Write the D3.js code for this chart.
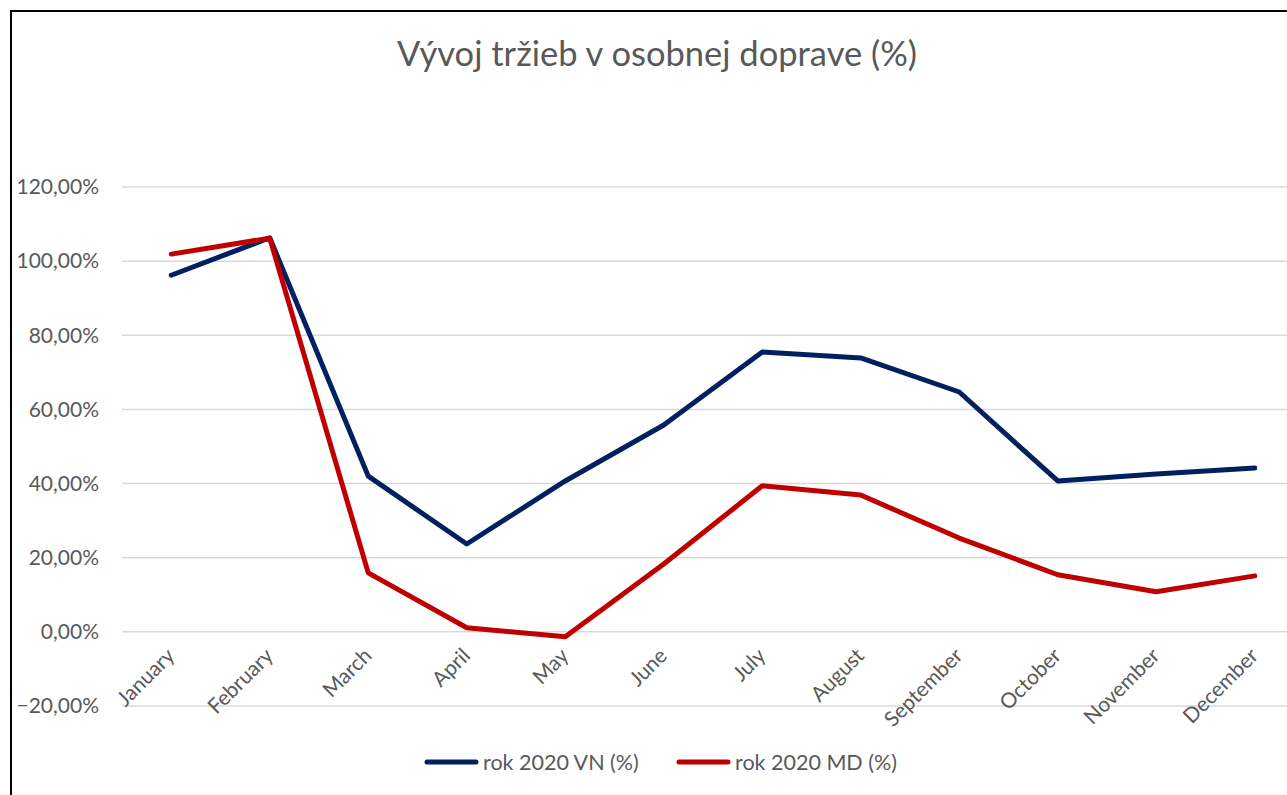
<!DOCTYPE html>
<html>
<head>
<meta charset="utf-8">
<script src="https://cdn.jsdelivr.net/npm/d3@7"></script>
<style>
  body { margin: 0; background: #fff; }
  text { font-family: Lato, "Open Sans", sans-serif; fill: #595959; }
</style>
</head>
<body>
<div id="chart"></div>
<script>
// data
const months = ["January", "February", "March", "April", "May", "June",
  "July", "August", "September", "October", "November", "December"];
const vn = [96.2, 106.3, 42.0, 23.7, 40.7, 55.8, 75.5, 73.9, 64.7, 40.7, 42.6, 44.2];
const md = [101.9, 106.2, 15.9, 1.1, -1.3, 18.3, 39.4, 36.9, 25.3, 15.4, 10.8, 15.1];
const yTicks = [-20, 0, 20, 40, 60, 80, 100, 120];
const seriesNames = ["rok 2020 VN (%)", "rok 2020 MD (%)"];
const colors = ["#002060", "#C00000"];

const W = 1287, H = 795;
const svg = d3.select("#chart").append("svg")
    .attr("width", W)
    .attr("height", H);

// chart frame (only top and left edges visible)
svg.append("rect")
    .attr("x", 11).attr("y", 11)
    .attr("width", 1320).attr("height", 830)
    .attr("fill", "none")
    .attr("stroke", "#000")
    .attr("stroke-width", 2);

// plot area
const plotLeft = 122, plotRight = 1304, plotTop = 187, plotBottom = 706;

const x = d3.scalePoint()
    .domain(months)
    .range([plotLeft, plotRight])
    .padding(0.5);

const y = d3.scaleLinear()
    .domain([-20, 120])
    .range([plotBottom, plotTop]);

// gridlines
svg.append("g")
    .selectAll("line")
    .data(yTicks)
    .enter().append("line")
    .attr("x1", plotLeft).attr("x2", plotRight + 20)
    .attr("y1", d => y(d)).attr("y2", d => y(d))
    .attr("stroke", "#d9d9d9")
    .attr("stroke-width", 1.5);

// y axis labels
const fmt = v => d3.format(".2f")(v).replace(".", ",") + "%";
const yAxis = svg.append("g")
    .attr("transform", `translate(${plotLeft - 23},0)`)
    .call(d3.axisLeft(y).tickValues(yTicks).tickFormat(fmt).tickSize(0).tickPadding(0));
yAxis.select(".domain").remove();
yAxis.selectAll("text")
    .style("font-size", "21px")
    .style("font-family", "Lato, 'Open Sans', sans-serif")
    .attr("fill", "#595959");

// x axis labels, rotated
const xAxis = svg.append("g")
    .attr("transform", `translate(0,${y(0)})`)
    .call(d3.axisBottom(x).tickSize(0).tickPadding(0));
xAxis.select(".domain").remove();
xAxis.selectAll("text")
    .style("font-size", "21px")
    .style("font-family", "Lato, 'Open Sans', sans-serif")
    .attr("fill", "#595959")
    .attr("y", 0)
    .attr("transform", "translate(-1,20) rotate(-45)")
    .attr("dy", "0.35em")
    .attr("dx", "0")
    .style("text-anchor", "end");

// lines
const line = d3.line()
    .x((d, i) => x(months[i]))
    .y(d => y(d));

[vn, md].forEach((s, k) => {
    svg.append("path")
        .datum(s)
        .attr("d", line)
        .attr("fill", "none")
        .attr("stroke", colors[k])
        .attr("stroke-width", 5)
        .attr("stroke-linejoin", "round")
        .attr("stroke-linecap", "round");
});

// title
svg.append("text")
    .attr("x", 657)
    .attr("y", 66)
    .attr("text-anchor", "middle")
    .style("font-size", "34.5px")
    .text("Vývoj tržieb v osobnej doprave (%)");

// legend
const legendX = [425, 677];
seriesNames.forEach((name, k) => {
    const g = svg.append("g").attr("transform", `translate(${legendX[k]},762)`);
    g.append("line")
        .attr("x1", 2).attr("x2", 51)
        .attr("stroke", colors[k])
        .attr("stroke-width", 5)
        .attr("stroke-linecap", "round");
    g.append("text")
        .attr("x", 58)
        .attr("dy", "0.35em")
        .style("font-size", "21.5px")
        .text(name);
});
</script>
</body>
</html>
